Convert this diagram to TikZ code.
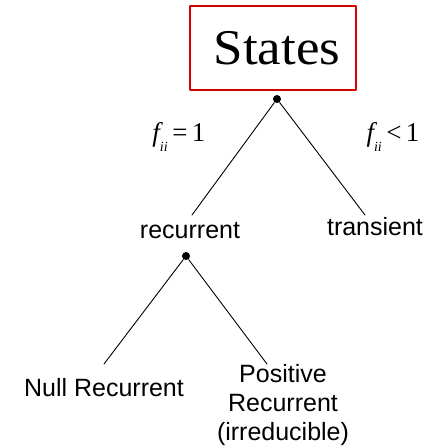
\documentclass[tikz,border=0pt]{standalone}
\usepackage{fontspec}
\setmainfont{Liberation Serif}
\setsansfont{Liberation Sans}
\begin{document}
\begin{tikzpicture}[x=1pt, y=-1pt, line join=round, line cap=round, line width=0.9pt,
    lbl/.style={font=\sffamily\fontsize{25}{29}\selectfont, align=center, inner sep=0pt},
    flbl/.style={font=\fontsize{27}{30}\selectfont, inner sep=0pt},
    dot/.style={circle, fill, inner sep=0pt, minimum size=8pt}]
  \useasboundingbox (0,0) rectangle (433,447);

  \node[draw=red!85!black, line width=1.5pt, minimum width=166pt, minimum height=84pt] (states) at (273,48) {};
  \node[inner sep=0pt, xscale=1.06, font=\fontsize{50}{52}\selectfont] (title) at (277,48.5) {States};

  \node[dot] (top) at (277,99) {};
  \coordinate (recend) at (192,215);
  \coordinate (traend) at (365,215);
  \draw (top) -- (recend);
  \draw (top) -- (traend);

  \node[flbl] (fone) at (179,137) {\itshape f\raisebox{-.35em}{\fontsize{14}{14}\selectfont ii}\,\upshape =\,1};
  \node[flbl] (fless) at (393,137) {\itshape f\raisebox{-.35em}{\fontsize{14}{14}\selectfont ii}\,\upshape <\,1};

  \node[lbl] (recurrent) at (190,231) {recurrent};
  \node[lbl] (transient) at (375,227) {transient};

  \node[dot] (rec) at (186,256) {};
  \coordinate (nullend) at (104,364);
  \coordinate (posend) at (267,364);
  \draw (rec) -- (nullend);
  \draw (rec) -- (posend);

  \node[lbl] (null) at (104,388) {Null Recurrent};
  \node[lbl, anchor=north] (pos) at (283,364) {Positive\\Recurrent\\(irreducible)};
\end{tikzpicture}
\end{document}
